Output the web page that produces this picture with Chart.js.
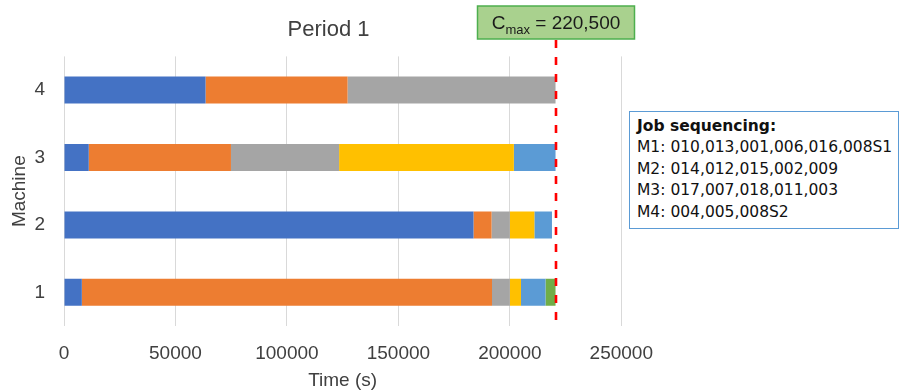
<!DOCTYPE html>
<html>
<head>
<meta charset="utf-8">
<script src="https://cdn.jsdelivr.net/npm/chart.js@4.4.1/dist/chart.umd.min.js"></script>
<style>
  html, body { margin: 0; padding: 0; background: #ffffff; }
  #wrap { position: relative; width: 901px; height: 392px; overflow: hidden; }
  #chartBox { position: absolute; left: 0; top: 0; width: 669px; height: 392px; }
  #seq {
    position: absolute; left: 629px; top: 111px; width: 270px; height: 118px;
    box-sizing: border-box; border: 1.5px solid #5B9BD5; background: #ffffff;
    padding: 4px 0 0 7px;
    font-family: "DejaVu Sans", sans-serif; font-size: 15.5px; line-height: 21.4px; color: #111111;
    white-space: nowrap;
  }
  #seq .head { font-weight: bold; }
</style>
</head>
<body>
<div id="wrap">
  <div id="chartBox"><canvas id="c"></canvas></div>
  <div id="seq"></div>
</div>
<script>
// Machines (y categories) and the duration of each job slot on every machine (seconds)
const machines = ['1', '2', '3', '4'];
const slot1 = [8000, 183700, 11100, 63500];
const slot2 = [184000, 8100, 63800, 63700];
const slot3 = [8000, 8200, 48500, 93300];
const slot4 = [5000, 11000, 78400, null];
const slot5 = [11000, 7900, 18700, null];
const slot6 = [4500, null, null, null];

// Makespan of the period
const cmax = 220500;

// Time axis ticks
const timeTicks = [0, 50000, 100000, 150000, 200000, 250000];

// Job order per machine
const sequenceTitle = 'Job sequencing:';
const sequences = [
  'M1: 010,013,001,006,016,008S1',
  'M2: 014,012,015,002,009',
  'M3: 017,007,018,011,003',
  'M4: 004,005,008S2'
];

const slotColors = ['#4472C4', '#ED7D31', '#A5A5A5', '#FFC000', '#5B9BD5', '#70AD47'];
const slots = [slot1, slot2, slot3, slot4, slot5, slot6];

// Sequence text box
const seqBox = document.getElementById('seq');
const head = document.createElement('div');
head.className = 'head';
head.textContent = sequenceTitle;
seqBox.appendChild(head);
sequences.forEach(s => {
  const d = document.createElement('div');
  d.textContent = s;
  seqBox.appendChild(d);
});

const FONT = 'Liberation Sans';
const TXT = '#404040';

// Dashed makespan line with its labelled box
const cmaxPlugin = {
  id: 'cmaxMarker',
  afterDatasetsDraw(chart) {
    const { ctx, chartArea, scales } = chart;
    const x = Math.round(scales.x.getPixelForValue(cmax));
    const boxTop = 6, boxH = 33, boxW = 157;

    ctx.save();
    ctx.strokeStyle = '#FF0000';
    ctx.lineWidth = 2.6;
    ctx.setLineDash([8, 9]);
    ctx.beginPath();
    ctx.moveTo(x, boxTop + boxH + 1);
    ctx.lineTo(x, chartArea.bottom);
    ctx.stroke();
    ctx.setLineDash([]);

    const bx = x - boxW / 2;
    ctx.fillStyle = '#A9D18E';
    ctx.fillRect(bx, boxTop, boxW, boxH);
    ctx.strokeStyle = '#4DAF4E';
    ctx.lineWidth = 1.5;
    ctx.strokeRect(bx, boxTop, boxW, boxH);

    const big = '19px "' + FONT + '"';
    const small = '13px "' + FONT + '"';
    const valueText = ' = ' + cmax.toLocaleString('en-US');
    ctx.font = big;
    const wC = ctx.measureText('C').width;
    const wV = ctx.measureText(valueText).width;
    ctx.font = small;
    const wS = ctx.measureText('max').width;
    let tx = x - (wC + wS + wV) / 2;
    const base = boxTop + 23;
    ctx.fillStyle = '#1a1a1a';
    ctx.textBaseline = 'alphabetic';
    ctx.textAlign = 'left';
    ctx.font = big;
    ctx.fillText('C', tx, base);
    tx += wC;
    ctx.font = small;
    ctx.fillText('max', tx, base + 5);
    tx += wS;
    ctx.font = big;
    ctx.fillText(valueText, tx, base);
    ctx.restore();
  }
};

new Chart(document.getElementById('c'), {
  type: 'bar',
  data: {
    labels: machines,
    datasets: slots.map((vals, i) => ({
      label: 'Job ' + (i + 1),
      data: vals,
      backgroundColor: slotColors[i],
      borderWidth: 0,
      barPercentage: 0.4,
      categoryPercentage: 1.0
    }))
  },
  options: {
    indexAxis: 'y',
    responsive: true,
    maintainAspectRatio: false,
    animation: false,
    devicePixelRatio: 1,
    layout: { padding: { left: 4, right: 16, top: 0, bottom: 0 } },
    plugins: {
      legend: { display: false },
      tooltip: { enabled: false },
      title: {
        display: true,
        text: 'Period 1',
        color: TXT,
        font: { family: FONT, size: 22, weight: 'normal' },
        padding: { top: 17, bottom: 13 }
      }
    },
    scales: {
      x: {
        type: 'linear',
        stacked: true,
        min: timeTicks[0],
        max: timeTicks[timeTicks.length - 1],
        afterBuildTicks(scale) { scale.ticks = timeTicks.map(v => ({ value: v })); },
        afterFit(scale) { scale.height = 66; },
        grid: { color: '#D9D9D9', lineWidth: 1, drawTicks: false },
        border: { display: false },
        ticks: {
          color: TXT,
          font: { family: FONT, size: 19 },
          padding: 16,
          maxRotation: 0,
          callback: v => String(v)
        },
        title: {
          display: true,
          text: 'Time (s)',
          color: TXT,
          font: { family: FONT, size: 19 },
          padding: { top: 3, bottom: 0 }
        }
      },
      y: {
        stacked: true,
        reverse: true,
        afterFit(scale) { scale.width = 60; },
        grid: { display: false, drawTicks: false },
        border: { display: false },
        ticks: {
          color: TXT,
          font: { family: FONT, size: 19 },
          padding: 19
        },
        title: {
          display: true,
          text: 'Machine',
          color: TXT,
          font: { family: FONT, size: 19 },
          padding: { top: 4, bottom: 3 }
        }
      }
    }
  },
  plugins: [cmaxPlugin]
});
</script>
</body>
</html>
